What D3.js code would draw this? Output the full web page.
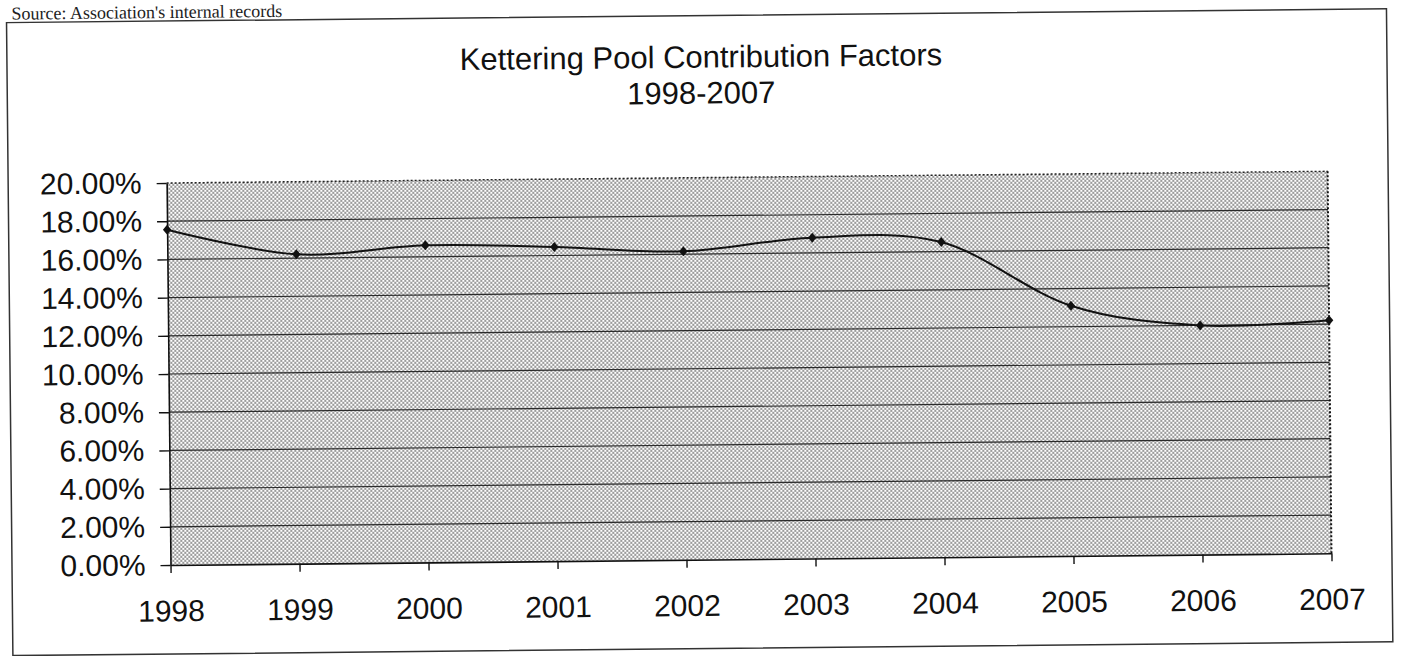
<!DOCTYPE html>
<html>
<head>
<meta charset="utf-8">
<script src="https://cdn.jsdelivr.net/npm/d3@7"></script>
<style>
  html, body { margin: 0; padding: 0; background: #fff; }
  svg { display: block; }
</style>
</head>
<body>
<svg id="chart" width="1403" height="656"></svg>
<script>
// ---- data ----
const years = ["1998", "1999", "2000", "2001", "2002", "2003", "2004", "2005", "2006", "2007"];
const factors = [17.55, 16.2, 16.6, 16.45, 16.15, 16.8, 16.5, 13.1, 12.0, 12.2]; // percent
const yTicks = [0, 2, 4, 6, 8, 10, 12, 14, 16, 18, 20];
const titleLines = ["Kettering Pool Contribution Factors", "1998-2007"];
const sourceNote = "Source: Association's internal records";

// ---- layout ----
const svg = d3.select("#chart");
const W = 1403, H = 656;
const plot = { left: 170.5, right: 1331.5, top: 183, bottom: 565 };
const tilt = -0.577; // the scanned page is slightly rotated

const defs = svg.append("defs");
const pat = defs.append("pattern")
  .attr("id", "stipple")
  .attr("patternUnits", "userSpaceOnUse")
  .attr("width", 4).attr("height", 4)
  .attr("patternTransform", `rotate(${-tilt})`);
pat.append("rect").attr("width", 4).attr("height", 4).attr("fill", "#fff");
pat.append("circle").attr("cx", 1).attr("cy", 1).attr("r", 0.85).attr("fill", "#2a2a2a");
pat.append("circle").attr("cx", 3).attr("cy", 3).attr("r", 0.85).attr("fill", "#2a2a2a");

svg.append("rect").attr("width", W).attr("height", H).attr("fill", "#fff");

const g = svg.append("g")
  .attr("transform", `rotate(${tilt}, ${plot.left}, ${plot.bottom})`);

// source note above the frame
g.append("text")
  .attr("x", 17).attr("y", 18)
  .attr("font-family", "'Liberation Serif', 'Times New Roman', serif")
  .attr("font-size", 18)
  .attr("fill", "#222")
  .text(sourceNote);

// outer frame
g.append("rect")
  .attr("x", 12).attr("y", 21)
  .attr("width", 1380).attr("height", 633)
  .attr("fill", "none")
  .attr("stroke", "#333")
  .attr("stroke-width", 1.5);

// title
g.append("g").selectAll("text")
  .data(titleLines)
  .join("text")
  .attr("x", 706)
  .attr("y", (d, i) => 73 + i * 36)
  .attr("text-anchor", "middle")
  .attr("font-family", "'Liberation Sans', Arial, sans-serif")
  .attr("font-size", 31)
  .attr("fill", "#111")
  .text(d => d);

// scales
const x = d3.scalePoint().domain(years).range([plot.left, plot.right]);
const y = d3.scaleLinear().domain([0, 20]).range([plot.bottom, plot.top]);

// plot area fill
g.append("rect")
  .attr("x", plot.left).attr("y", plot.top)
  .attr("width", plot.right - plot.left)
  .attr("height", plot.bottom - plot.top)
  .attr("fill", "url(#stipple)");

// gridlines
g.append("g").selectAll("line")
  .data(yTicks.filter(t => t > 0 && t < 20))
  .join("line")
  .attr("x1", plot.left).attr("x2", plot.right)
  .attr("y1", d => y(d)).attr("y2", d => y(d))
  .attr("stroke", "#2a2a2a")
  .attr("stroke-width", 1.2);

// dotted top and right borders
g.append("line")
  .attr("x1", plot.left).attr("x2", plot.right)
  .attr("y1", y(20)).attr("y2", y(20))
  .attr("stroke", "#222").attr("stroke-width", 1.5)
  .attr("stroke-dasharray", "2,2");
g.append("line")
  .attr("x1", plot.right).attr("x2", plot.right)
  .attr("y1", y(20)).attr("y2", y(0))
  .attr("stroke", "#111").attr("stroke-width", 2)
  .attr("stroke-dasharray", "2,2");

// axes
const fontFam = "'Liberation Sans', Arial, sans-serif";
const yAxis = g.append("g")
  .attr("transform", `translate(${plot.left},0)`)
  .call(d3.axisLeft(y).tickValues(yTicks).tickFormat(d => d.toFixed(2) + "%")
    .tickSize(10).tickSizeOuter(0).tickPadding(15));
const xAxis = g.append("g")
  .attr("transform", `translate(0,${plot.bottom})`)
  .call(d3.axisBottom(x).tickSize(8).tickSizeOuter(0).tickPadding(27));

[yAxis, xAxis].forEach(ax => {
  ax.select(".domain").attr("stroke", "#111").attr("stroke-width", 1.6);
  ax.selectAll(".tick line").attr("stroke", "#111").attr("stroke-width", 1.4);
  ax.selectAll(".tick text")
    .attr("font-family", fontFam)
    .attr("font-size", 30)
    .attr("fill", "#111");
});

// smoothed series line
const pts = years.map((yr, i) => [x(yr), y(factors[i])]);
g.append("path")
  .attr("d", d3.line().curve(d3.curveCatmullRom.alpha(0))(pts))
  .attr("fill", "none")
  .attr("stroke", "#111")
  .attr("stroke-width", 2);

// diamond markers
const diamond = {
  draw(ctx, size) {
    const w = 4.2, h = 5;
    ctx.moveTo(0, -h); ctx.lineTo(w, 0); ctx.lineTo(0, h); ctx.lineTo(-w, 0); ctx.closePath();
  }
};
g.append("g").selectAll("path")
  .data(years.map((yr, i) => ({ yr, v: factors[i] })))
  .join("path")
  .attr("transform", d => `translate(${x(d.yr)},${y(d.v)})`)
  .attr("d", d3.symbol().type(diamond).size(64)())
  .attr("fill", "#111");
</script>
</body>
</html>
